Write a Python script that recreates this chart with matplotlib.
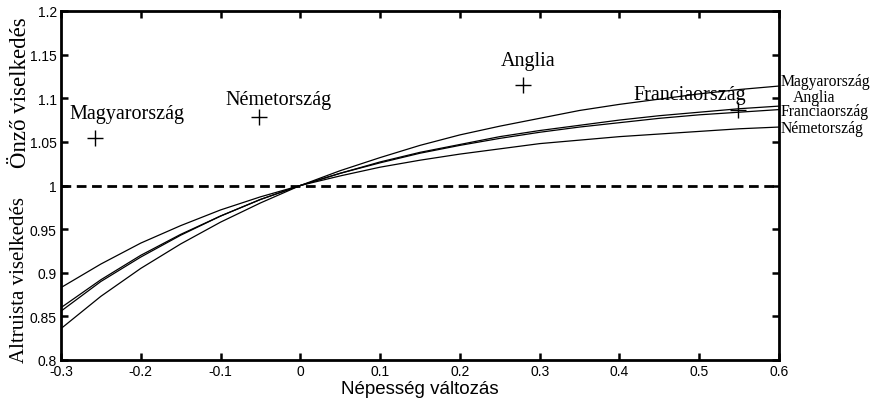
import numpy as np
import matplotlib
matplotlib.use("Agg")
import matplotlib.pyplot as plt

x = [-0.3, -0.25, -0.2, -0.15, -0.1, -0.05, 0.0, 0.05, 0.1, 0.15,
     0.2, 0.25, 0.3, 0.35, 0.4, 0.45, 0.5, 0.55, 0.6]

y_magyar = [0.836, 0.873, 0.905, 0.933, 0.958, 0.980, 1.000, 1.017, 1.032, 1.046,
            1.058, 1.068, 1.077, 1.086, 1.093, 1.099, 1.105, 1.110, 1.114]
y_anglia = [0.860, 0.892, 0.920, 0.944, 0.965, 0.984, 1.000, 1.014, 1.027, 1.038,
            1.047, 1.056, 1.063, 1.069, 1.075, 1.080, 1.084, 1.088, 1.091]
y_francia = [0.856, 0.890, 0.918, 0.943, 0.965, 0.984, 1.000, 1.014, 1.026, 1.037,
             1.046, 1.054, 1.061, 1.067, 1.072, 1.077, 1.081, 1.084, 1.087]
y_nemet = [0.883, 0.910, 0.934, 0.954, 0.972, 0.987, 1.000, 1.011, 1.021, 1.029,
           1.036, 1.042, 1.048, 1.052, 1.056, 1.059, 1.062, 1.065, 1.067]

# observed points
countries = ["Magyarország", "Németország", "Anglia", "Franciaország"]
pt_x = [-0.258, -0.052, 0.279, 0.549]
pt_y = [1.055, 1.078, 1.115, 1.0865]

curve_names = ["Magyarország", "Anglia", "Franciaország", "Németország"]

xticks = [-0.3, -0.2, -0.1, 0.0, 0.1, 0.2, 0.3, 0.4, 0.5, 0.6]
xtick_labels = ["-0.3", "-0.2", "-0.1", "0", "0.1", "0.2", "0.3", "0.4", "0.5", "0.6"]
yticks = [0.8, 0.85, 0.9, 0.95, 1.0, 1.05, 1.1, 1.15, 1.2]
ytick_labels = ["0.8", "0.85", "0.9", "0.95", "1", "1.05", "1.1", "1.15", "1.2"]

serif = "Liberation Serif"
sans = "Liberation Sans"

fig = plt.figure(figsize=(8.71, 4.02), dpi=100)
ax = fig.add_axes([61 / 871, 1 - 361 / 402, 718 / 871, 349 / 402])

for yy in [y_magyar, y_anglia, y_francia, y_nemet]:
    ax.plot(x, yy, color="black", lw=0.9)

ax.axhline(1.0, color="black", lw=2, ls=(0, (3.5, 2)))

ax.plot(pt_x, pt_y, ls="none", marker="+", ms=12, mew=1.0, color="black")

# point labels
lab_pos = [(-0.217, 1.082), (-0.027, 1.099), (0.285, 1.143), (0.488, 1.104)]
for name, (lx, ly) in zip(countries, lab_pos):
    ax.text(lx, ly, name, family=serif, fontsize=14.5, ha="center", va="center")

# labels at the right end of the curves
right_y = [1.1195, 1.1015, 1.0853, 1.0658]
right_dx = [0.002, 0.017, 0.002, 0.002]
for name, ry, dx in zip(curve_names, right_y, right_dx):
    ax.text(0.6 + dx, ry, name, family=serif, fontsize=11.3,
            ha="left", va="center", clip_on=False)

ax.set_xlim(-0.3, 0.6)
ax.set_ylim(0.8, 1.2)
ax.set_xticks(xticks)
ax.set_xticklabels(xtick_labels, family=sans)
ax.set_yticks(yticks)
ax.set_yticklabels(ytick_labels, family=sans)
ax.tick_params(direction="in", length=5, width=1.8, top=True, right=True,
               labelsize=10, pad=3)
for s in ax.spines.values():
    s.set_linewidth(2)

ax.set_xlabel("Népesség változás", family=sans, fontsize=13.5, labelpad=1)

fig.text(20 / 871, 1 - 93 / 402, "Önző viselkedés", family=serif, fontsize=16.5,
         rotation=90, ha="center", va="center")
fig.text(20 / 871, 1 - 280 / 402, "Altruista viselkedés", family=serif, fontsize=15,
         rotation=90, ha="center", va="center")

plt.savefig("out.png", dpi=100)
